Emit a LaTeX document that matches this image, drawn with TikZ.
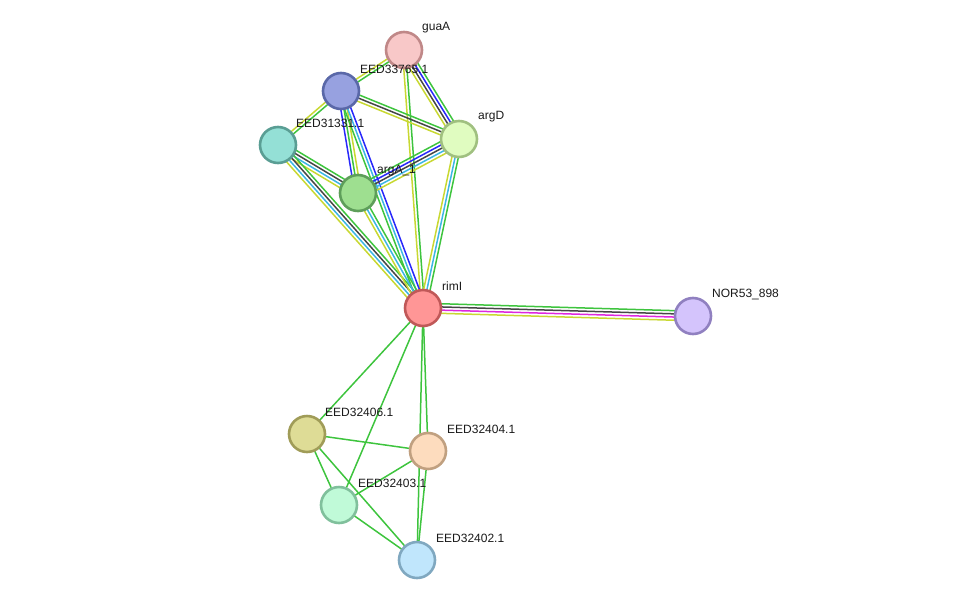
\documentclass[tikz,border=0pt]{standalone}
\usepackage{fontspec}
\setmainfont{Liberation Sans}
\usetikzlibrary{calc,backgrounds}
\definecolor{sgreen}{RGB}{62,196,62}
\definecolor{sblue}{RGB}{40,40,250}
\definecolor{scyan}{RGB}{60,182,228}
\definecolor{sblack}{RGB}{70,70,70}
\definecolor{syellow}{RGB}{200,216,50}
\definecolor{smagenta}{RGB}{222,40,222}
\tikzset{
  prot/.style={circle,line width=2.6pt,minimum size=36pt,inner sep=0pt},
  lbl/.style={anchor=west,inner sep=0pt,font=\fontsize{12}{14}\selectfont,text=black!90},
  edgeline/.style={line width=1.5pt},
}
\newcommand\edgebundle[3]{%
  \foreach \c [count=\i] in {#3} {\xdef\nn{\i}}%
  \foreach \c [count=\i] in {#3} {%
    \pgfmathsetmacro\off{((\nn+1)/2-\i)*3.2}%
    \draw[edgeline,draw=\c] ($(#1)!\off pt!90:(#2)$) -- ($(#2)!\off pt!-90:(#1)$);
  }%
}
\begin{document}
\begin{tikzpicture}[x=1pt,y=-1pt]
\useasboundingbox (0,0) rectangle (976,605);
% proteins
\node[prot,fill={rgb,255:red,248;green,200;blue,200},draw={rgb,255:red,192;green,136;blue,136}] (guaA) at (404,50) {};
\node[prot,fill={rgb,255:red,151;green,161;blue,224},draw={rgb,255:red,90;green,104;blue,168}] (E33765) at (341,91) {};
\node[prot,fill={rgb,255:red,148;green,224;blue,214},draw={rgb,255:red,90;green,158;blue,148}] (E31331) at (278,145) {};
\node[prot,fill={rgb,255:red,224;green,252;blue,192},draw={rgb,255:red,160;green,192;blue,128}] (argD) at (459,139) {};
\node[prot,fill={rgb,255:red,158;green,223;blue,144},draw={rgb,255:red,94;green,158;blue,90}] (argA) at (358,193) {};
\node[prot,fill={rgb,255:red,255;green,150;blue,150},draw={rgb,255:red,192;green,88;blue,88}] (rimI) at (423,308) {};
\node[prot,fill={rgb,255:red,212;green,196;blue,252},draw={rgb,255:red,144;green,128;blue,192}] (NOR) at (693,316) {};
\node[prot,fill={rgb,255:red,222;green,220;blue,150},draw={rgb,255:red,160;green,156;blue,88}] (E32406) at (307,434) {};
\node[prot,fill={rgb,255:red,253;green,220;blue,190},draw={rgb,255:red,192;green,160;blue,128}] (E32404) at (428,451) {};
\node[prot,fill={rgb,255:red,192;green,250;blue,216},draw={rgb,255:red,128;green,192;blue,156}] (E32403) at (339,505) {};
\node[prot,fill={rgb,255:red,192;green,230;blue,252},draw={rgb,255:red,128;green,168;blue,192}] (E32402) at (417,560) {};
% labels
\node[lbl] (lguaA) at (422,28) {guaA};
\node[lbl] (lE33765) at (360,69) {EED33765.1};
\node[lbl] (lE31331) at (296,123) {EED31331.1};
\node[lbl] (largD) at (478,117) {argD};
\node[lbl] (largA) at (377,171) {argA\_1};
\node[lbl] (lrimI) at (442,286) {rimI};
\node[lbl] (lNOR) at (712,294) {NOR53\_898};
\node[lbl] (lE32406) at (325,412) {EED32406.1};
\node[lbl] (lE32404) at (447,429) {EED32404.1};
\node[lbl] (lE32403) at (358,483) {EED32403.1};
\node[lbl] (lE32402) at (436,538) {EED32402.1};
% edges
\begin{pgfonlayer}{background}
\edgebundle{guaA}{E33765}{sgreen,syellow}
\edgebundle{guaA}{argD}{sgreen,sblue,sblack,syellow}
\edgebundle{guaA}{rimI}{sgreen,syellow}
\edgebundle{E33765}{argD}{sgreen,sblack,syellow}
\edgebundle{E33765}{E31331}{sgreen,syellow}
\edgebundle{E33765}{argA}{syellow,sgreen,sblue}
\edgebundle{E33765}{rimI}{sblue,scyan,sgreen}
\edgebundle{E31331}{argA}{sgreen,sblack,scyan,syellow}
\edgebundle{E31331}{rimI}{sgreen,sblack,scyan,syellow}
\edgebundle{argA}{argD}{sgreen,sblue,sblack,scyan,syellow}
\edgebundle{argA}{rimI}{sgreen,scyan,syellow}
\edgebundle{argD}{rimI}{sgreen,scyan,syellow}
\edgebundle{rimI}{NOR}{sgreen,sblack,smagenta,syellow}
\edgebundle{rimI}{E32406}{sgreen}
\edgebundle{rimI}{E32403}{sgreen}
\edgebundle{rimI}{E32404}{sgreen}
\edgebundle{rimI}{E32402}{sgreen}
\edgebundle{E32406}{E32404}{sgreen}
\edgebundle{E32406}{E32403}{sgreen}
\edgebundle{E32406}{E32402}{sgreen}
\edgebundle{E32404}{E32403}{sgreen}
\edgebundle{E32404}{E32402}{sgreen}
\edgebundle{E32403}{E32402}{sgreen}
\end{pgfonlayer}
\end{tikzpicture}
\end{document}
